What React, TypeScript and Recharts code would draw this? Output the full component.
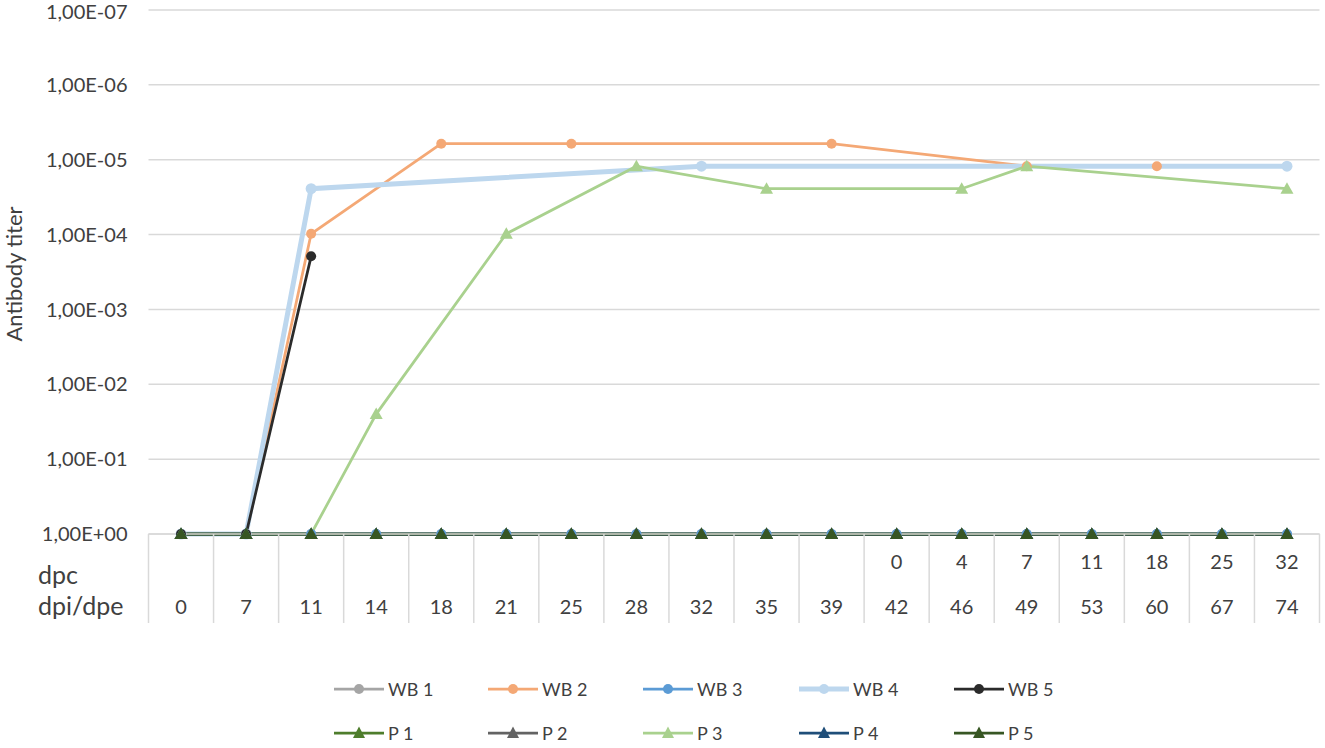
import { LineChart, Line, XAxis, YAxis, CartesianGrid, Legend } from "recharts"

// days post infection / exposure (category axis) and days post contact
const dpi = ["0", "7", "11", "14", "18", "21", "25", "28", "32", "35", "39", "42", "46", "49", "53", "60", "67", "74"]
const dpc = ["", "", "", "", "", "", "", "", "", "", "", "0", "4", "7", "11", "18", "25", "32"]

// reciprocal antibody titers (1 = negative), null = not sampled
const wb1 = [1, 1, 1, 1, 1, 1, 1, 1, 1, 1, 1, 1, 1, 1, 1, 1, 1, 1]
const wb2 = [1, 1, 10240, null, 163840, null, 163840, null, null, null, 163840, null, null, 81920, null, 81920, null, null]
const wb3 = [1, 1, 1, 1, 1, 1, 1, 1, 1, 1, 1, 1, 1, 1, 1, 1, 1, 1]
const wb4 = [1, 1, 40960, null, null, null, null, null, 81920, null, null, null, null, null, null, null, null, 81920]
const wb5 = [1, 1, 5120, null, null, null, null, null, null, null, null, null, null, null, null, null, null, null]
const p1 = [1, 1, 1, 1, 1, 1, 1, 1, 1, 1, 1, 1, 1, 1, 1, 1, 1, 1]
const p2 = [1, 1, 1, 1, 1, 1, 1, 1, 1, 1, 1, 1, 1, 1, 1, 1, 1, 1]
const p3 = [1, 1, 1, 40, null, 10240, null, 81920, null, 40960, null, null, 40960, 81920, null, null, null, 40960]
const p4 = [1, 1, 1, 1, 1, 1, 1, 1, 1, 1, 1, 1, 1, 1, 1, 1, 1, 1]
const p5 = [1, 1, 1, 1, 1, 1, 1, 1, 1, 1, 1, 1, 1, 1, 1, 1, 1, 1]

const yTicks = [1, 10, 100, 1000, 10000, 100000, 1000000, 10000000]

const series = [
  { key: "wb1", name: "WB 1", values: wb1, color: "#A5A5A5", width: 2.75, shape: "circle" },
  { key: "wb2", name: "WB 2", values: wb2, color: "#F4A875", width: 2.75, shape: "circle" },
  { key: "wb3", name: "WB 3", values: wb3, color: "#5B9BD5", width: 2.75, shape: "circle" },
  { key: "wb4", name: "WB 4", values: wb4, color: "#BDD7EE", width: 5, shape: "circle" },
  { key: "wb5", name: "WB 5", values: wb5, color: "#2B2B2B", width: 2.75, shape: "circle" },
  { key: "p1", name: "P 1", values: p1, color: "#4E7D2C", width: 2.75, shape: "triangle" },
  { key: "p2", name: "P 2", values: p2, color: "#636363", width: 2.75, shape: "triangle" },
  { key: "p3", name: "P 3", values: p3, color: "#A9D18E", width: 2.75, shape: "triangle" },
  { key: "p4", name: "P 4", values: p4, color: "#1F4E79", width: 2.75, shape: "triangle" },
  { key: "p5", name: "P 5", values: p5, color: "#375623", width: 2.75, shape: "triangle" },
]

const data = dpi.map((d, i) => {
  const row: any = { dpi: d, dpc: dpc[i] }
  series.forEach((s) => (row[s.key] = s.values[i]))
  return row
})

const W = 1325
const H = 748
const FONT = "Lato, 'Noto Sans', sans-serif"
const TEXT = "#404040"
const GRID = "#D9D9D9"
const PLOT_LEFT = 148.5
const PLOT_RIGHT = 1319.5
const PLOT_TOP = 10
const AXIS_Y = 534
const TABLE_BOTTOM = 623
const LEGEND_H = 81
const BAND = (PLOT_RIGHT - PLOT_LEFT) / dpi.length
const LEGEND_X = [334, 488, 643, 799, 954]

const fmtY = (v: number) => {
  const e = Math.round(Math.log10(v))
  return e === 0 ? "1,00E+00" : `1,00E-0${e}`
}

function marker(shape: string, color: string, r: number) {
  return (props: any) => {
    const { cx, cy, index } = props
    if (cx == null || cy == null || isNaN(cy)) return <g key={`e-${index}`} />
    if (shape === "triangle") {
      return (
        <polygon
          key={`t-${index}`}
          points={`${cx},${cy - 6.5} ${cx - 6.5},${cy + 5} ${cx + 6.5},${cy + 5}`}
          fill={color}
        />
      )
    }
    return <circle key={`c-${index}`} cx={cx} cy={cy} r={r} fill={color} />
  }
}

function XTick(props: any) {
  const { x, payload } = props
  const i = payload.index
  const last = i === dpi.length - 1
  return (
    <g>
      <line x1={x - BAND / 2} y1={AXIS_Y} x2={x - BAND / 2} y2={TABLE_BOTTOM} stroke={GRID} strokeWidth={1.5} />
      {last && (
        <line x1={x + BAND / 2} y1={AXIS_Y} x2={x + BAND / 2} y2={TABLE_BOTTOM} stroke={GRID} strokeWidth={1.5} />
      )}
      <text x={x} y={569} textAnchor="middle" fontSize={20} fill={TEXT} fontFamily={FONT}>
        {dpc[i]}
      </text>
      <text x={x} y={614} textAnchor="middle" fontSize={20} fill={TEXT} fontFamily={FONT}>
        {payload.value}
      </text>
      {i === 0 && (
        <>
          <text x={38} y={584} fontSize={25} fill={TEXT} fontFamily={FONT}>dpc</text>
          <text x={38} y={615} fontSize={25} fill={TEXT} fontFamily={FONT}>dpi/dpe</text>
        </>
      )}
    </g>
  )
}

function LegendIcon({ shape, color, width }: { shape: string; color: string; width: number }) {
  return (
    <svg width={50} height={20} style={{ display: "block" }}>
      <line x1={0} y1={10} x2={50} y2={10} stroke={color} strokeWidth={width} />
      {shape === "triangle" ? (
        <polygon points="25,3.5 19,15 31,15" fill={color} />
      ) : (
        <circle cx={25} cy={10} r={5} fill={color} />
      )}
    </svg>
  )
}

function renderLegend() {
  return (
    <div style={{ position: "relative", width: W, height: LEGEND_H, fontFamily: FONT, fontSize: 18, color: TEXT }}>
      {series.map((s, i) => (
        <div
          key={s.key}
          style={{
            position: "absolute",
            left: LEGEND_X[i % 5],
            top: (i < 5 ? 22 : 66) - 10,
            height: 20,
            display: "flex",
            alignItems: "center",
            gap: 4,
            whiteSpace: "nowrap",
          }}
        >
          <LegendIcon shape={s.shape} color={s.color} width={s.width} />
          <span>{s.name}</span>
        </div>
      ))}
    </div>
  )
}

export default function App() {
  return (
    <div style={{ position: "absolute", left: 0, top: 0, width: W, height: H, background: "#fff", fontFamily: FONT }}>
      <LineChart
        width={W}
        height={H}
        data={data}
        margin={{ top: PLOT_TOP, right: W - PLOT_RIGHT, left: 0, bottom: 0 }}
      >
        <CartesianGrid horizontal vertical={false} stroke={GRID} strokeWidth={1.5} />
        <XAxis
          dataKey="dpi"
          type="category"
          interval={0}
          padding={{ left: BAND / 2, right: BAND / 2 }}
          height={H - AXIS_Y - LEGEND_H}
          axisLine={{ stroke: GRID, strokeWidth: 1.5 }}
          tickLine={false}
          tick={<XTick />}
        />
        <YAxis
          type="number"
          scale="log"
          domain={[1, 10000000]}
          ticks={yTicks}
          width={PLOT_LEFT}
          axisLine={false}
          tickLine={false}
          tickFormatter={fmtY}
          tickMargin={15}
          tick={{ fontSize: 20, fill: TEXT, fontFamily: FONT }}
          label={{
            content: () => (
              <text
                x={22}
                y={274}
                transform="rotate(-90 22 274)"
                textAnchor="middle"
                fontSize={22}
                fill={TEXT}
                fontFamily={FONT}
              >
                Antibody titer
              </text>
            ),
          }}
        />
        <Legend
          verticalAlign="bottom"
          content={renderLegend}
          wrapperStyle={{ left: 0, bottom: 0, width: W, height: LEGEND_H }}
        />
        {series.map((s) => (
          <Line
            key={s.key}
            dataKey={s.key}
            name={s.name}
            type="linear"
            stroke={s.color}
            strokeWidth={s.width}
            connectNulls
            dot={marker(s.shape, s.color, s.key === "wb4" ? 5.5 : 5)}
            activeDot={false}
            isAnimationActive={false}
          />
        ))}
      </LineChart>
    </div>
  )
}
